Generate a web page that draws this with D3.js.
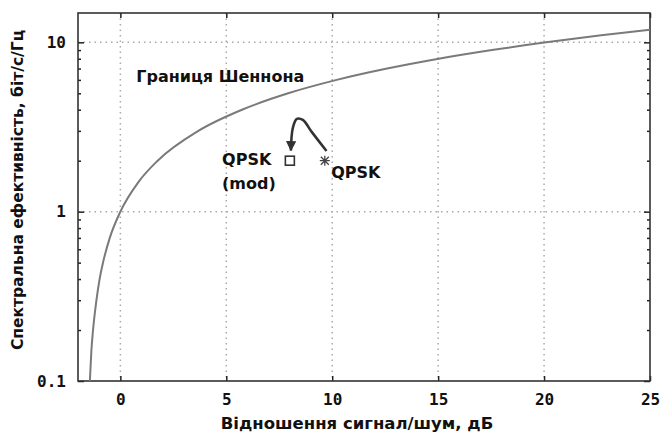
<!doctype HTML>
<meta charset="utf-8">
<style>
    body { margin: 0; background: #fff; }
    .tick text { font-family: "DejaVu Sans Mono", monospace; font-weight: bold; font-size: 16px; fill: #111; }
    .lbl { font-family: "DejaVu Sans", sans-serif; font-weight: bold; fill: #111; }
</style>
<html>
<head>
    <script src="https://d3js.org/d3.v7.min.js"></script>
</head>
<body>
<div id="chart"></div>
<script>

    // Shannon limit (Eb/N0 in dB, bit/s/Hz)
    var snrDb      = [-1.44, -1.37, -1.29, -1.13, -0.98, -0.82, -0.50, 0, 0.86, 1.76, 3.68, 5.74, 7.92, 10.21, 12.59, 15.03, 17.54, 20.10, 22.70, 25];
    var efficiency = [0.1, 0.15, 0.2, 0.3, 0.4, 0.5, 0.7, 1, 1.5, 2, 3, 4, 5, 6, 7, 8, 9, 10, 11, 11.87];

    // QPSK points
    var qpskModPoint = [8.0, 2.0];
    var qpskPoint    = [9.65, 2.0];

    // hand drawn arrow from QPSK to QPSK (mod)
    var arrowX = [9.73, 9.04, 8.61, 8.33, 8.14, 8.05];
    var arrowY = [2.28, 2.95, 3.48, 3.53, 3.12, 2.30];

    var xTicks = [0, 5, 10, 15, 20, 25];
    var yTicks = [0.1, 1, 10];
    var yTickLabels = ["0.1", "1", "10"];

    var margin = {top: 13, right: 11, bottom: 57, left: 78},
        width = 661 - margin.left - margin.right,
        height = 438 - margin.top - margin.bottom;

    var svg = d3.select("#chart")
        .append("svg")
        .attr("width", width + margin.left + margin.right)
        .attr("height", height + margin.top + margin.bottom)
        .append("g")
        .attr("transform", "translate(" + margin.left + "," + margin.top + ")");

    var x = d3.scaleLinear().domain([-2, 25]).range([0, width]);
    var y = d3.scaleLog().domain([0.1, 14.9]).range([height, 0]);

    // minor log ticks
    var minor = [];
    [0.1, 1, 10].forEach(function(dec) {
        for (var k = 2; k <= 9; k++) {
            if (dec * k < 14.9) minor.push(dec * k);
        }
    });

    // grid
    var grid = svg.append("g");
    grid.selectAll(".gx")
        .data([0, 5, 10, 15, 20])
        .enter().append("line")
        .attr("x1", function(d) { return x(d); })
        .attr("x2", function(d) { return x(d); })
        .attr("y1", 0).attr("y2", height)
        .attr("stroke", "#aaa").attr("stroke-width", 1.5).attr("stroke-dasharray", "1.5,4");
    grid.selectAll(".gy")
        .data([1, 10])
        .enter().append("line")
        .attr("x1", 0).attr("x2", width)
        .attr("y1", function(d) { return y(d); })
        .attr("y2", function(d) { return y(d); })
        .attr("stroke", "#aaa").attr("stroke-width", 1.5).attr("stroke-dasharray", "1.5,4");

    // axes
    svg.append("g")
        .attr("transform", "translate(0," + height + ")")
        .call(d3.axisBottom(x).tickValues(xTicks).tickSize(-5).tickPadding(13).tickFormat(d3.format("d")))
        .call(function(g) { g.select(".domain").remove(); });
    svg.append("g")
        .call(d3.axisTop(x).tickValues(xTicks).tickSize(-5).tickFormat(""))
        .call(function(g) { g.select(".domain").remove(); });
    svg.append("g")
        .call(d3.axisLeft(y).tickValues(yTicks).tickSize(-6).tickPadding(12)
            .tickFormat(function(d, i) { return yTickLabels[i]; }))
        .call(function(g) { g.select(".domain").remove(); });
    svg.append("g")
        .call(d3.axisLeft(y).tickValues(minor).tickSize(-3).tickFormat(""))
        .call(function(g) { g.select(".domain").remove(); });
    svg.append("g")
        .attr("transform", "translate(" + width + ",0)")
        .call(d3.axisRight(y).tickValues(yTicks).tickSize(-6).tickFormat(""))
        .call(function(g) { g.select(".domain").remove(); });
    svg.append("g")
        .attr("transform", "translate(" + width + ",0)")
        .call(d3.axisRight(y).tickValues(minor).tickSize(-3).tickFormat(""))
        .call(function(g) { g.select(".domain").remove(); });
    svg.selectAll(".tick line").attr("stroke", "#222").attr("stroke-width", 1.5);

    // frame
    svg.append("rect")
        .attr("width", width).attr("height", height)
        .attr("fill", "none").attr("stroke", "#333").attr("stroke-width", 1.6);

    // Shannon curve
    var shannon = snrDb.map(function(d, i) { return [d, efficiency[i]]; });
    svg.append("clipPath").attr("id", "clip")
        .append("rect").attr("width", width).attr("height", height);
    svg.append("path")
        .datum(shannon)
        .attr("clip-path", "url(#clip)")
        .attr("fill", "none")
        .attr("stroke", "#7a7a7a")
        .attr("stroke-width", 2)
        .attr("d", d3.line()
            .x(function(d) { return x(d[0]); })
            .y(function(d) { return y(d[1]); })
            .curve(d3.curveMonotoneX));

    // arrow
    svg.append("defs").append("marker")
        .attr("id", "head")
        .attr("viewBox", "0 0 10 10")
        .attr("refX", 9).attr("refY", 5)
        .attr("markerWidth", 4).attr("markerHeight", 4)
        .attr("markerUnits", "strokeWidth")
        .attr("orient", "auto")
        .append("path")
        .attr("d", "M0,0 L10,5 L0,10 Z")
        .attr("fill", "#333");
    var arrow = arrowX.map(function(d, i) { return [d, arrowY[i]]; });
    svg.append("path")
        .datum(arrow)
        .attr("fill", "none")
        .attr("stroke", "#333")
        .attr("stroke-width", 2.6)
        .attr("marker-end", "url(#head)")
        .attr("d", d3.line()
            .x(function(d) { return x(d[0]); })
            .y(function(d) { return y(d[1]); })
            .curve(d3.curveCatmullRom));

    // QPSK (mod) square
    svg.append("rect")
        .attr("x", x(qpskModPoint[0]) - 4.5)
        .attr("y", y(qpskModPoint[1]) - 4.5)
        .attr("width", 9).attr("height", 9)
        .attr("fill", "none").attr("stroke", "#333").attr("stroke-width", 1.6);

    // QPSK asterisk
    var ax = x(qpskPoint[0]), ay = y(qpskPoint[1]);
    svg.append("path")
        .attr("d", "M" + (ax - 5) + "," + ay + "h10M" + ax + "," + (ay - 5) + "v10" +
            "M" + (ax - 4) + "," + (ay - 4) + "l8,8M" + (ax - 4) + "," + (ay + 4) + "l8,-8")
        .attr("stroke", "#444").attr("stroke-width", 1.3);

    // labels
    svg.append("text").attr("class", "lbl")
        .attr("x", x(0.75)).attr("y", y(5.85))
        .style("font-size", "16px")
        .text("Границя Шеннона");
    svg.append("text").attr("class", "lbl")
        .attr("x", x(4.8)).attr("y", y(1.88))
        .style("font-size", "16px")
        .text("QPSK");
    svg.append("text").attr("class", "lbl")
        .attr("x", x(4.8)).attr("y", y(1.36))
        .style("font-size", "16px")
        .text("(mod)");
    svg.append("text").attr("class", "lbl")
        .attr("x", x(9.95)).attr("y", y(1.58))
        .style("font-size", "16px")
        .text("QPSK");

    // axis titles
    svg.append("text").attr("class", "lbl")
        .attr("x", width / 2 - 7).attr("y", height + 48)
        .attr("text-anchor", "middle")
        .style("font-size", "16.5px")
        .text("Відношення сигнал/шум, дБ");
    svg.append("text").attr("class", "lbl")
        .attr("transform", "translate(" + (-55) + "," + (190 - margin.top) + ") rotate(-90)")
        .attr("text-anchor", "middle")
        .style("font-size", "15.5px")
        .text("Спектральна ефективність, біт/с/Гц");

</script>
</body>
</html>
